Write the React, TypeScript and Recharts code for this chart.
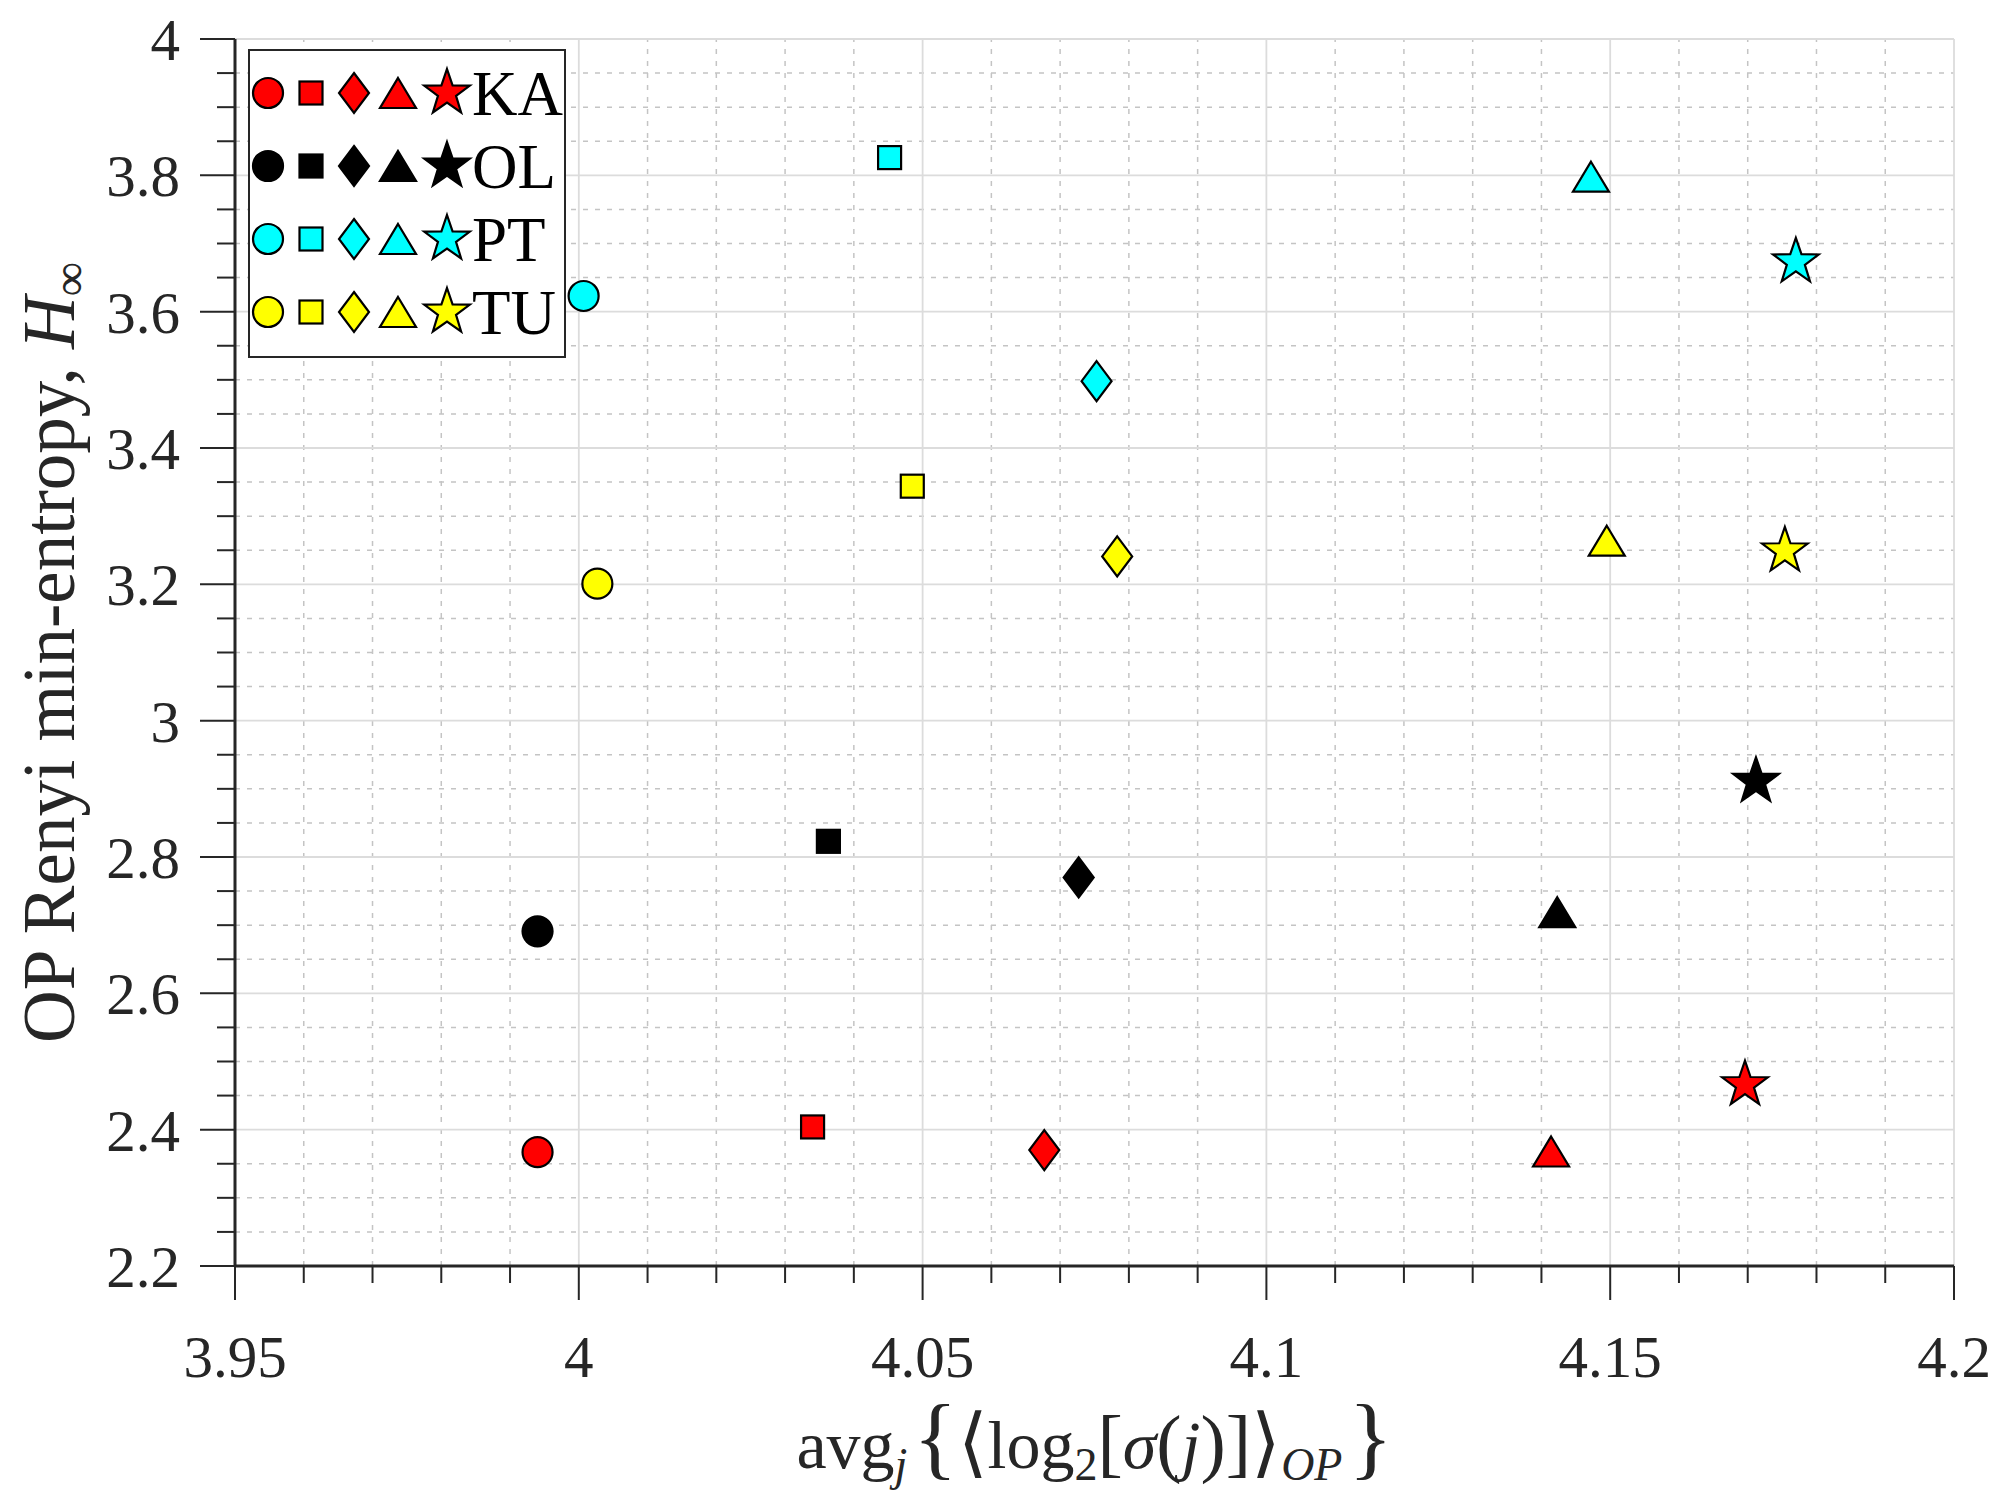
import React from "react";
import { ScatterChart, Scatter, XAxis, YAxis, ReferenceLine, Legend } from "recharts";

// marker kind for the 5 points of each group (same order in every group)
const markers = ["circle", "square", "diamond", "triangle", "star"];

const groupNames = ["KA", "OL", "PT", "TU"];
const groupColors = ["#ff0000", "#000000", "#00ffff", "#ffff00"];

const kaX = [3.994, 4.034, 4.0677, 4.1414, 4.1696];
const kaY = [2.367, 2.404, 2.37, 2.368, 2.466];
const olX = [3.994, 4.0363, 4.0727, 4.1423, 4.1712];
const olY = [2.691, 2.823, 2.77, 2.719, 2.911];
const ptX = [4.0007, 4.0452, 4.0753, 4.1472, 4.177];
const ptY = [3.623, 3.826, 3.498, 3.798, 3.673];
const tuX = [4.0027, 4.0485, 4.0783, 4.1495, 4.1754];
const tuY = [3.201, 3.344, 3.241, 3.264, 3.249];

const xMajorTicks = [3.95, 4, 4.05, 4.1, 4.15, 4.2];
const xMinorTicks = [
  3.96, 3.97, 3.98, 3.99, 4.01, 4.02, 4.03, 4.04, 4.06, 4.07,
  4.08, 4.09, 4.11, 4.12, 4.13, 4.14, 4.16, 4.17, 4.18, 4.19,
];
const yMajorTicks = [2.2, 2.4, 2.6, 2.8, 3, 3.2, 3.4, 3.6, 3.8, 4];
const yMinorTicks = [
  2.25, 2.3, 2.35, 2.45, 2.5, 2.55, 2.65, 2.7, 2.75, 2.85, 2.9, 2.95, 3.05,
  3.1, 3.15, 3.25, 3.3, 3.35, 3.45, 3.5, 3.55, 3.65, 3.7, 3.75, 3.85, 3.9, 3.95,
];

const groupX = [kaX, olX, ptX, tuX];
const groupY = [kaY, olY, ptY, tuY];

const FONT = "Liberation Serif";
const AXIS = "#262626";

const isMajor = (v: number, majors: number[]) =>
  majors.some((m) => Math.abs(m - v) < 1e-9);

function fmt(v: number) {
  return String(Math.round(v * 100) / 100);
}

function Marker({ kind, cx, cy, fill }: { kind: string; cx: number; cy: number; fill: string }) {
  const common = { fill, stroke: "#000", strokeWidth: 2.2 };
  if (kind === "circle") return <circle cx={cx} cy={cy} r={15} {...common} />;
  if (kind === "square")
    return <rect x={cx - 11.5} y={cy - 11.5} width={23} height={23} {...common} />;
  if (kind === "diamond")
    return (
      <polygon
        points={`${cx},${cy - 20} ${cx + 15},${cy} ${cx},${cy + 20} ${cx - 15},${cy}`}
        {...common}
      />
    );
  if (kind === "triangle")
    return (
      <polygon
        points={`${cx},${cy - 15} ${cx + 18},${cy + 15} ${cx - 18},${cy + 15}`}
        {...common}
      />
    );
  const pts: string[] = [];
  for (let i = 0; i < 10; i++) {
    const a = ((-90 + i * 36) * Math.PI) / 180;
    const r = i % 2 === 0 ? 24 : 9.5;
    pts.push(`${cx + r * Math.cos(a)},${cy + r * Math.sin(a)}`);
  }
  return <polygon points={pts.join(" ")} {...common} />;
}

function XTick(props: any) {
  const { x, y, payload } = props;
  const major = isMajor(payload.value, xMajorTicks);
  return (
    <g>
      <line x1={x} x2={x} y1={y} y2={y + (major ? 34 : 17)} stroke={AXIS} strokeWidth={2} />
      {major && (
        <text
          x={x}
          y={y + 111}
          textAnchor="middle"
          style={{ fontFamily: FONT, fontSize: 59 }}
          fill={AXIS}
        >
          {fmt(payload.value)}
        </text>
      )}
    </g>
  );
}

function YTick(props: any) {
  const { x, y, payload } = props;
  const major = isMajor(payload.value, yMajorTicks);
  return (
    <g>
      <line x1={x} x2={x - (major ? 35 : 18)} y1={y} y2={y} stroke={AXIS} strokeWidth={2} />
      {major && (
        <text
          x={x - 55}
          y={y + 21}
          textAnchor="end"
          style={{ fontFamily: FONT, fontSize: 59 }}
          fill={AXIS}
        >
          {fmt(payload.value)}
        </text>
      )}
    </g>
  );
}

function XLabel(props: any) {
  const vb = props.viewBox || { x: 235, width: 1719 };
  const cx = vb.x + vb.width / 2;
  return (
    <text x={cx} y={1468} textAnchor="middle" style={{ fontFamily: FONT, fontSize: 68 }} fill={AXIS}>
      <tspan>avg</tspan>
      <tspan fontStyle="italic" fontSize={46} dy={12}>j</tspan>
      <tspan fontSize={92} dy={-12} dx={6}>{"{"}</tspan>
      <tspan fontSize={76}>⟨</tspan>
      <tspan>log</tspan>
      <tspan fontSize={46} dy={12}>2</tspan>
      <tspan fontSize={76} dy={-12}>[</tspan>
      <tspan fontStyle="italic">σ</tspan>
      <tspan fontSize={76}>(</tspan>
      <tspan fontStyle="italic">j</tspan>
      <tspan fontSize={76}>)]⟩</tspan>
      <tspan fontStyle="italic" fontSize={46} dy={12}>OP</tspan>
      <tspan fontSize={92} dy={-12} dx={6}>{"}"}</tspan>
    </text>
  );
}

function YLabel(props: any) {
  const vb = props.viewBox || { y: 39, height: 1227 };
  const cy = vb.y + vb.height / 2;
  const cx = 74;
  return (
    <text
      x={cx}
      y={cy}
      transform={`rotate(-90, ${cx}, ${cy})`}
      textAnchor="middle"
      style={{ fontFamily: FONT, fontSize: 73 }}
      fill={AXIS}
    >
      <tspan>OP Renyi min-entropy, </tspan>
      <tspan fontStyle="italic">H</tspan>
      <tspan fontSize={48} dy={12}>∞</tspan>
    </text>
  );
}

function LegendBox() {
  return (
    <div
      style={{
        width: 318,
        height: 309,
        boxSizing: "border-box",
        border: `2.5px solid ${AXIS}`,
        background: "#fff",
      }}
    >
      <svg width={313} height={304} style={{ display: "block" }}>
        {groupNames.map((name, g) => {
          const cy = 42 + g * 73;
          return (
            <g key={name}>
              {markers.map((m, i) => (
                <Marker key={m} kind={m} cx={[18, 61, 104, 148, 197][i]} cy={cy} fill={groupColors[g]} />
              ))}
              <text x={222} y={cy + 22} style={{ fontFamily: FONT, fontSize: 63 }} fill="#000">
                {name}
              </text>
            </g>
          );
        })}
      </svg>
    </div>
  );
}

export default function App() {
  const xTicks = [...xMajorTicks, ...xMinorTicks].sort((a, b) => a - b);
  const yTicks = [...yMajorTicks, ...yMinorTicks].sort((a, b) => a - b);
  const series = groupNames.map((name, g) =>
    groupX[g].map((x, i) => ({ x, y: groupY[g][i], marker: markers[i] }))
  );

  return (
    <div style={{ position: "absolute", left: 0, top: 0, width: 2016, height: 1493, background: "#fff" }}>
      <ScatterChart width={2016} height={1493} margin={{ top: 39, right: 62, bottom: 0, left: 0 }}>
        {xMinorTicks.map((v) => (
          <ReferenceLine key={`xm${v}`} x={v} stroke="#c4c4c4" strokeWidth={1.5} strokeDasharray="5 7" />
        ))}
        {yMinorTicks.map((v) => (
          <ReferenceLine key={`ym${v}`} y={v} stroke="#c4c4c4" strokeWidth={1.5} strokeDasharray="5 7" />
        ))}
        {xMajorTicks.slice(1).map((v) => (
          <ReferenceLine key={`xM${v}`} x={v} stroke="#dcdcdc" strokeWidth={1.8} />
        ))}
        {yMajorTicks.slice(1).map((v) => (
          <ReferenceLine key={`yM${v}`} y={v} stroke="#dcdcdc" strokeWidth={1.8} />
        ))}
        <XAxis
          type="number"
          dataKey="x"
          domain={[3.95, 4.2]}
          ticks={xTicks}
          interval={0}
          height={227}
          tickSize={0}
          tickMargin={0}
          tickLine={false}
          tick={<XTick />}
          axisLine={{ stroke: AXIS, strokeWidth: 3 }}
          label={<XLabel />}
        />
        <YAxis
          type="number"
          dataKey="y"
          domain={[2.2, 4]}
          ticks={yTicks}
          interval={0}
          width={235}
          tickSize={0}
          tickMargin={0}
          tickLine={false}
          tick={<YTick />}
          axisLine={{ stroke: AXIS, strokeWidth: 3 }}
          label={<YLabel />}
        />
        {series.map((rows, g) => (
          <Scatter
            key={groupNames[g]}
            name={groupNames[g]}
            data={rows}
            isAnimationActive={false}
            shape={(p: any) => (
              <Marker kind={p.payload.marker} cx={p.cx} cy={p.cy} fill={groupColors[g]} />
            )}
          />
        ))}
        <Legend
          layout="vertical"
          align="center"
          verticalAlign="middle"
          wrapperStyle={{ left: 248, top: 49, width: 318, height: 309 }}
          content={() => <LegendBox />}
        />
      </ScatterChart>
    </div>
  );
}
